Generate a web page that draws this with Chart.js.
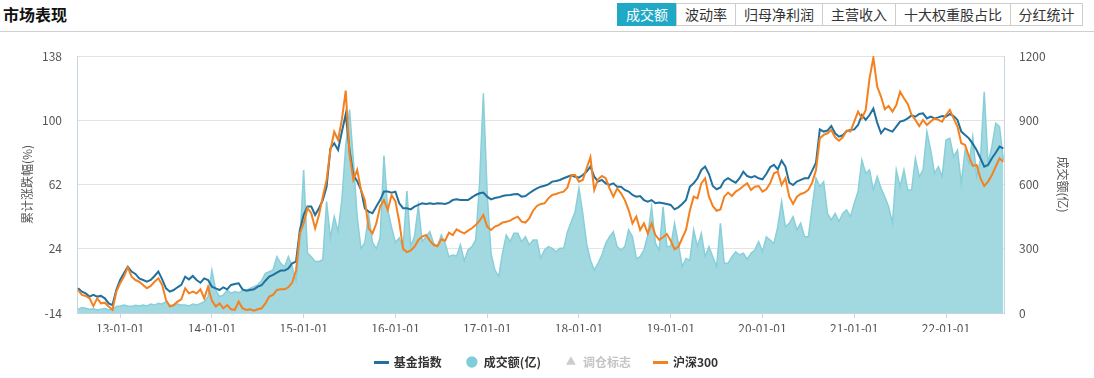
<!DOCTYPE html>
<html>
<head>
<meta charset="utf-8">
<script src="https://cdn.jsdelivr.net/npm/chart.js@4.4.1/dist/chart.umd.min.js"></script>
<style>
  html, body { margin: 0; padding: 0; background: #fff; }
  body { width: 1094px; height: 378px; position: relative; overflow: hidden;
         font-family: 'Noto Sans CJK SC', 'Microsoft YaHei', sans-serif; }
  .title { position: absolute; left: 3px; top: 3px; font-size: 16px; font-weight: bold; color: #111; line-height: 22px; }
  .hline { position: absolute; left: 0; top: 31px; width: 1094px; height: 1px; background: #cfcfcf; }
  .tabs { position: absolute; left: 618px; top: 3px; display: flex; height: 23px; }
  .tabs span { box-sizing: border-box; height: 23px; line-height: 21px; border: 1px solid #cdcdcd; margin-left: -1px;
               font-size: 14px; color: #333; text-align: center; background: #fff; }
  .tabs span.on { background: #1fa9c6; border-color: #1fa9c6; color: #fff; }
  #wrap { position: absolute; left: 0; top: 32px; width: 1094px; height: 346px; }
</style>
</head>
<body>
<div class="title">市场表现</div>
<div class="tabs">
  <span class="on" style="width:60px">成交额</span>
  <span style="width:60px">波动率</span>
  <span style="width:88px">归母净利润</span>
  <span style="width:74px">主营收入</span>
  <span style="width:116px">十大权重股占比</span>
  <span style="width:73px">分红统计</span>
</div>
<div class="hline"></div>
<div id="wrap"><canvas id="marketChart" width="1094" height="346"></canvas></div>
<script>
// 半月采样, 2012-07-16 起
var startHalf = 2012 * 24 + 13;
var yearTicks = [2013, 2014, 2015, 2016, 2017, 2018, 2019, 2020, 2021, 2022];
var leftTicks = [-14, 24, 62, 100, 138];
var rightTicks = [0, 300, 600, 900, 1200];

var fundIndex = [
  0.6, -1.4, -2.4, -4.3, -3.3, -4.3, -3.9, -5.3, -8.3, -9.3,
  -0.4, 5.5, 9.5, 13.4, 10.5, 9.1, 6.5, 5.5, 4.5, 5.5,
  7.9, 10.5, 5.9, 0.6, -1.4, -0.4, 1.2, 2.6, 7.5, 5.9,
  7.9, 5.5, 3.9, 6.5, 5.5, 1.6, 0.6, -0.4, 1.2, 0.0,
  2.6, 3.2, 3.6, 0.0, -0.8, -0.4, 0.0, 1.6, 2.4, 5.1,
  7.5, 8.5, 9.9, 11.1, 11.1, 12.4, 15.4, 16.4, 35.0, 44.0,
  49.0, 49.0, 44.0, 48.0, 52.8, 60.7, 83.4, 86.4, 82.4, 93.2,
  103.5, 82.4, 67.6, 64.0, 58.8, 47.9, 46.0, 45.0, 49.0, 52.8,
  57.8,
  57.8, 57.2, 57.8, 50.9, 48.0, 48.0, 47.3, 48.9, 49.9, 50.9,
  50.5, 50.9, 50.5, 50.9, 50.7, 50.5, 51.3, 52.8, 53.2, 52.8,
  52.8, 52.8, 54.4, 55.8, 56.8, 57.2, 54.8, 53.2, 54.0, 54.4,
  55.2, 55.6, 55.8, 56.2, 56.4, 54.8, 55.2, 56.8, 58.4, 59.7,
  60.7, 61.3, 62.1, 63.7, 64.1, 64.7, 65.7, 66.6, 67.4, 66.6,
  66.1, 67.6, 69.6, 72.6, 66.6, 63.7, 64.7, 62.7, 61.7, 62.7,
  60.7, 60.7, 58.8, 57.8, 55.8, 54.8, 55.2, 52.8, 51.9, 52.8,
  50.9, 51.3, 50.9, 50.5, 49.9, 47.3, 48.5, 50.5, 52.8, 60.7, 62.7,
  65.7, 70.6, 72.6, 68.2, 61.1, 59.2, 60.3, 64.3, 65.7, 64.3,
  63.1, 65.7, 69.6, 67.0, 66.2, 67.0, 65.7, 65.1, 68.2, 72.2,
  73.6, 71.0, 76.1, 72.6, 63.1, 61.7, 63.7, 64.7, 65.7, 65.7,
  70.2, 74.9, 94.6, 93.3, 93.9, 96.6, 92.3, 90.3, 91.1, 93.5,
  94.2, 94.6, 97.2, 103.1, 100.2, 103.1, 106.9, 98.6, 92.3, 95.2,
  94.2, 93.3, 96.2, 99.2, 99.8, 101.1, 102.9, 102.1, 103.7, 104.1,
  101.1, 102.1, 101.1, 101.7, 102.5, 102.1, 103.7, 102.5, 100.2, 93.3,
  91.3, 89.3, 86.0, 82.4, 77.5, 72.6, 73.6, 77.5, 80.8, 84.4, 83.4
];

var volume = [
  17, 26, 22, 17, 20, 14, 17, 22, 14, 17,
  30, 33, 37, 33, 30, 36, 33, 37, 33, 42,
  37, 45, 42, 53, 37, 33, 42, 37, 37, 33,
  42, 37, 45, 53, 76, 201, 107, 76, 84, 107,
  92, 100, 95, 104, 107, 115, 123, 131, 151, 185,
  193, 201, 263, 232, 216, 263, 216, 150, 330, 668,
  280, 263, 240, 240, 250, 520, 350, 450, 380, 530,
  780, 950, 714, 450, 300, 330, 460, 330, 300, 350,
  735,
  480, 400, 330, 350, 300, 570, 310, 360, 500, 333,
  356, 380, 325, 310, 364, 325, 263, 271, 266, 318,
  244, 294, 310, 341, 606, 1026, 559, 279, 201, 170,
  279, 364, 333, 372, 372, 333, 356, 318, 341, 341,
  255, 294, 310, 302, 286, 302, 302, 380, 427, 473,
  582, 465, 325, 247, 201, 232, 271, 325, 356, 380,
  310, 294, 310, 388, 356, 255, 263, 294, 364, 496,
  325, 294, 496, 310, 310, 419, 325, 216, 255, 247, 388,
  310, 372, 263, 310, 263, 216, 419, 232, 232, 263,
  286, 271, 279, 251, 279, 294, 333, 286, 356, 341,
  325, 403, 520, 403, 419, 450, 388, 419, 356, 356,
  496, 629, 590, 613, 465, 434, 465, 427, 465, 481,
  450, 512, 567, 714, 652, 668, 574, 637, 582, 543,
  496, 419, 668, 590, 668, 574, 574, 722, 637, 668,
  847, 761, 652, 683, 637, 808, 816, 730, 761, 606,
  761, 699, 823, 637, 714, 1033, 699, 777, 886, 870, 714
];

var hs300 = [
  -0.4, -3.3, -3.9, -5.3, -9.9, -5.3, -8.3, -7.9, -10.2, -12.2,
  -1.4, 3.6, 7.5, 13.0, 7.5, 5.5, 4.5, 2.6, 0.6, 2.0,
  4.5, 6.5, 2.6, -6.3, -10.2, -9.3, -7.3, -5.9, 0.6, -2.4,
  -1.4, -2.4, 0.0, -5.3, 1.6, -6.7, -10.2, -8.3, -11.2, -9.3,
  -11.8, -12.2, -7.3, -11.2, -12.2, -11.8, -12.6, -11.8, -11.2, -8.3,
  -4.3, -3.3, -0.4, 0.0, 0.0, 1.2, 4.0, 11.0, 33.1, 39.0,
  48.0, 45.0, 36.0, 44.0, 54.8, 64.7, 82.4, 93.2, 88.3, 100.5,
  117.5, 80.0, 64.7, 70.6, 58.8, 52.8, 36.1, 33.1, 39.0, 48.9,
  52.8,
  46.9, 55.8, 52.0, 40.0, 24.0, 22.0, 23.0, 25.2, 29.2, 31.2,
  32.1, 28.8, 26.2, 25.6, 29.6, 28.8, 33.5, 32.1, 35.5, 34.1,
  33.1, 34.7, 36.1, 38.0, 40.6, 44.0, 37.1, 35.1, 37.1, 38.0,
  39.5, 40.0, 40.6, 42.0, 43.0, 40.0, 39.5, 42.0, 46.5, 49.3,
  50.5, 50.9, 53.8, 55.8, 56.4, 57.2, 57.8, 60.3, 67.6, 67.6,
  63.7, 64.7, 71.6, 78.1, 58.8, 65.1, 67.0, 65.7, 59.7, 54.8,
  59.7, 56.8, 52.8, 46.9, 39.0, 43.0, 35.1, 39.0, 33.1, 39.0,
  32.1, 29.2, 30.8, 32.7, 28.8, 23.7, 25.2, 30.2, 35.1, 46.5, 54.8,
  53.8, 62.7, 65.7, 54.8, 49.3, 46.5, 47.3, 54.8, 57.2, 55.2,
  57.8, 59.2, 61.1, 62.7, 58.8, 60.7, 61.1, 57.8, 59.2, 62.7,
  68.6, 69.6, 61.7, 65.7, 54.8, 50.5, 54.8, 56.4, 57.2, 58.8,
  63.1, 70.6, 89.3, 91.3, 92.3, 94.2, 89.9, 87.9, 89.9, 93.9,
  93.3, 99.2, 105.1, 101.1, 106.1, 124.8, 137.0, 119.9, 114.0, 106.5,
  108.4, 105.1, 109.0, 116.9, 113.0, 109.6, 103.1, 100.2, 96.6, 100.2,
  97.2, 99.2, 101.1, 100.2, 99.2, 103.1, 106.1, 101.1, 96.2, 86.4,
  85.4, 78.5, 73.0, 73.6, 65.7, 61.1, 63.7, 67.6, 72.6, 77.5, 75.5
];

var blue = '#21709d';
var orange = '#f4811f';
var volFill = '#a2d9e1';
var volLine = '#88cfd9';

function halfMonthX(k) { return (startHalf + k) / 24; }

function toPoints(arr) {
  return arr.map(function(v, k) { return { x: halfMonthX(k), y: v }; });
}

function lineIcon(color) {
  var c = document.createElement('canvas');
  c.width = 15; c.height = 3;
  var g = c.getContext('2d');
  g.fillStyle = color;
  g.fillRect(0, 0, 15, 3);
  return c;
}

var fontFamily = "'Noto Sans CJK SC', 'Microsoft YaHei', sans-serif";
Chart.defaults.font.family = fontFamily;

var ctx = document.getElementById('marketChart');
new Chart(ctx, {
  type: 'line',
  data: {
    datasets: [
      { label: '基金指数', data: toPoints(fundIndex), yAxisID: 'y', borderColor: blue, borderWidth: 2, pointRadius: 0, tension: 0, order: 1 },
      { label: '成交额(亿)', data: toPoints(volume), yAxisID: 'y1', borderColor: volLine, backgroundColor: volFill, borderWidth: 1.5, pointRadius: 0, tension: 0, fill: 'origin', order: 3 },
      { label: '调仓标志', data: [], yAxisID: 'y', pointStyle: 'triangle', showLine: false, order: 2 },
      { label: '沪深300', data: toPoints(hs300), yAxisID: 'y', borderColor: orange, borderWidth: 2, pointRadius: 0, tension: 0, order: 0 }
    ]
  },
  options: {
    responsive: false,
    animation: false,
    events: [],
    layout: { padding: { top: 24, left: 0, right: 0, bottom: 0 } },
    plugins: {
      tooltip: { enabled: false },
      legend: {
        position: 'bottom',
        labels: {
          usePointStyle: true,
          boxWidth: 12,
          boxHeight: 8,
          padding: 24,
          font: { size: 12, weight: 'bold' },
          color: '#333',
          generateLabels: function() {
            return [
              { text: '基金指数', pointStyle: lineIcon(blue), fillStyle: blue, strokeStyle: blue, lineWidth: 0, fontColor: '#333', datasetIndex: 0 },
              { text: '成交额(亿)', pointStyle: 'circle', fillStyle: '#7fcdd8', strokeStyle: '#7fcdd8', lineWidth: 0, fontColor: '#333', datasetIndex: 1 },
              { text: '调仓标志', pointStyle: 'triangle', fillStyle: '#cccccc', strokeStyle: '#cccccc', lineWidth: 0, fontColor: '#c4c4c4', datasetIndex: 2 },
              { text: '沪深300', pointStyle: lineIcon(orange), fillStyle: orange, strokeStyle: orange, lineWidth: 0, fontColor: '#333', datasetIndex: 3 }
            ];
          }
        }
      }
    },
    scales: {
      x: {
        type: 'linear',
        min: 2012.53,
        max: 2022.632,
        afterBuildTicks: function(s) { s.ticks = yearTicks.map(function(v) { return { value: v }; }); },
        afterFit: function(s) { s.height = 19; },
        ticks: {
          autoSkip: false, maxRotation: 0, padding: 3, color: '#555', font: { size: 12 },
          callback: function(v) { return String(v).slice(2) + '-01-01'; }
        },
        grid: { drawOnChartArea: false, color: '#c6d5e4', tickLength: 5 },
        border: { color: '#c6d5e4' }
      },
      y: {
        position: 'left',
        min: -14,
        max: 138,
        afterBuildTicks: function(s) { s.ticks = leftTicks.map(function(v) { return { value: v }; }); },
        afterFit: function(s) { s.width = 77; },
        ticks: { padding: 15, color: '#555', font: { size: 12 }, callback: function(v) { return String(v); } },
        grid: { color: '#e3e3e3', drawTicks: false },
        border: { color: '#c6d5e4' },
        title: { display: true, text: '累计涨跌幅(%)', color: '#555', font: { size: 12 }, padding: { top: 20, bottom: 0 } }
      },
      y1: {
        position: 'right',
        min: 0,
        max: 1200,
        afterBuildTicks: function(s) { s.ticks = rightTicks.map(function(v) { return { value: v }; }); },
        afterFit: function(s) { s.width = 90; },
        ticks: { padding: 15, color: '#555', font: { size: 12 }, callback: function(v) { return String(v); } },
        grid: { drawOnChartArea: false, drawTicks: false },
        border: { color: '#c6d5e4' },
        title: { display: true, text: '成交额(亿)', color: '#555', font: { size: 12 }, padding: { top: 24, bottom: 0 } }
      }
    }
  }
});
</script>
</body>
</html>
